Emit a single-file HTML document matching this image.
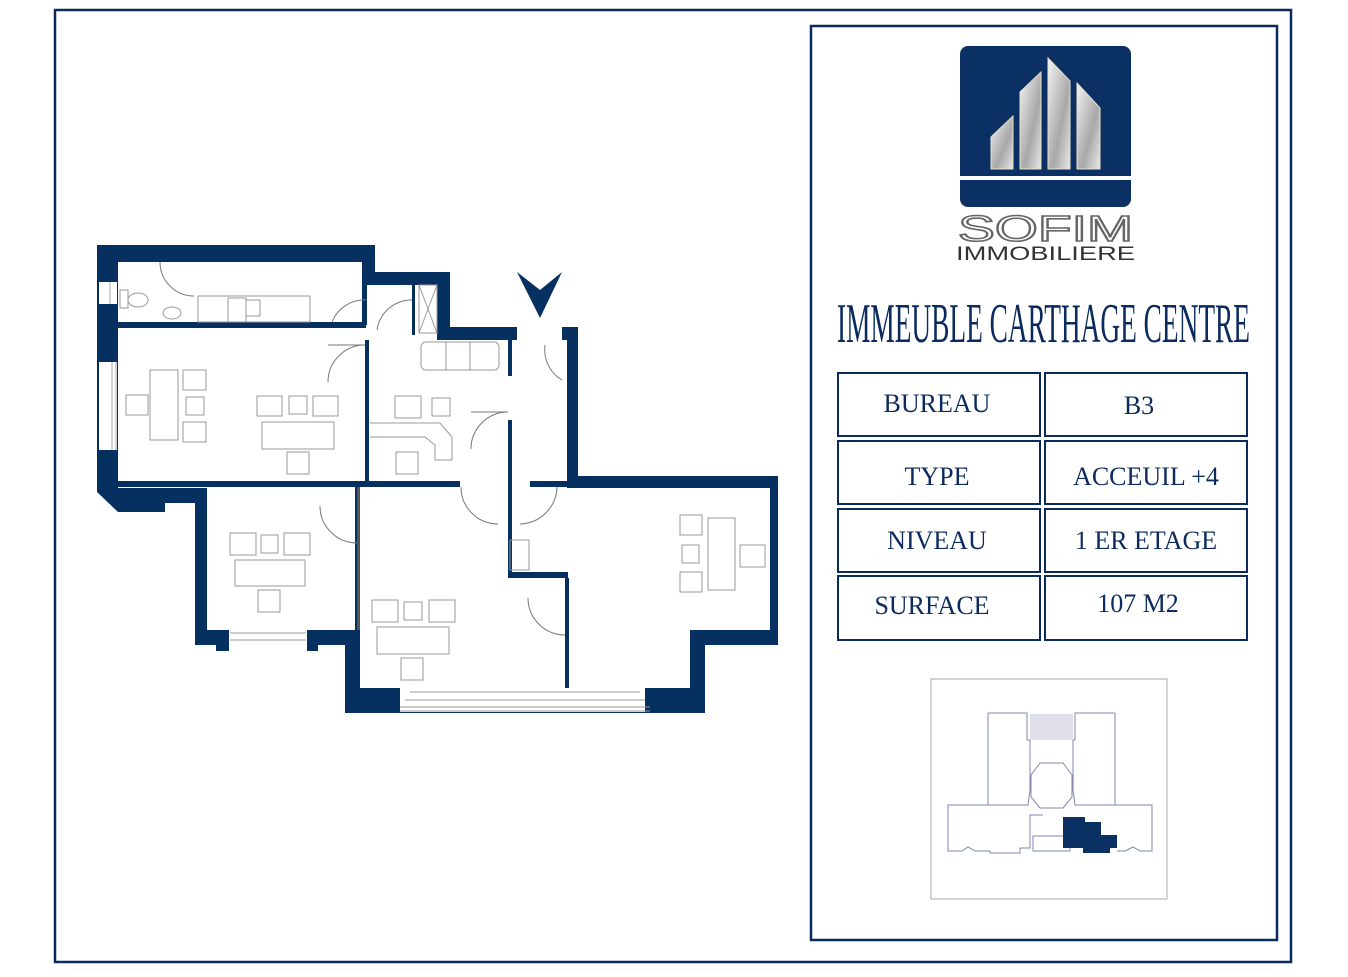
<!DOCTYPE html>
<html><head><meta charset="utf-8"><style>
html,body{margin:0;padding:0;background:#fff;}
svg{display:block;}
</style></head><body>
<svg width="1348" height="977" viewBox="0 0 1348 977" xmlns="http://www.w3.org/2000/svg">
<rect x="0" y="0" width="1348" height="977" fill="#fff"/>
<rect x="55" y="10" width="1236" height="952" fill="none" stroke="#0b2a5e" stroke-width="2.5"/>
<rect x="811" y="26" width="466" height="914" fill="none" stroke="#0b2a5e" stroke-width="2.5"/>

<!-- logo -->
<rect x="960" y="46" width="171" height="161" rx="8" fill="#0b3063"/>
<rect x="960" y="176" width="171" height="4" fill="#fff"/>
<defs><linearGradient id="g" x1="0" y1="0" x2="1" y2="1"><stop offset="0" stop-color="#f4f4f4"/><stop offset="0.6" stop-color="#a8a8a8"/><stop offset="1" stop-color="#e8e8e8"/></linearGradient></defs>
<polygon points="991,137 1013,116 1013,169 991,169" fill="url(#g)" stroke="#e9e1c8" stroke-width="1"/>
<polygon points="1020,92 1041,72 1041,169 1020,169" fill="url(#g)" stroke="#e9e1c8" stroke-width="1"/>
<polygon points="1048,58 1070,81 1070,169 1048,169" fill="url(#g)" stroke="#e9e1c8" stroke-width="1"/>
<polygon points="1077,83 1100,108 1100,169 1077,169" fill="url(#g)" stroke="#e9e1c8" stroke-width="1"/>
<text x="958" y="241" textLength="175" lengthAdjust="spacingAndGlyphs" font-family="Liberation Sans, sans-serif" font-size="36" fill="none" stroke="#666" stroke-width="1.6">SOFIM</text>
<text x="956" y="260" textLength="179" lengthAdjust="spacingAndGlyphs" font-family="Liberation Sans, sans-serif" font-size="19" fill="#333">IMMOBILIERE</text>

<!-- title -->
<text x="837" y="342" textLength="413" lengthAdjust="spacingAndGlyphs" font-family="Liberation Serif, serif" font-size="56" fill="#0b2a5e">IMMEUBLE CARTHAGE CENTRE</text>

<!-- table -->
<g fill="none" stroke="#0b2a5e" stroke-width="2">
<rect x="838" y="373" width="202" height="63"/><rect x="1045" y="373" width="202" height="63"/>
<rect x="838" y="441" width="202" height="63"/><rect x="1045" y="441" width="202" height="63"/>
<rect x="838" y="509" width="202" height="63"/><rect x="1045" y="509" width="202" height="63"/>
<rect x="838" y="576" width="202" height="64"/><rect x="1045" y="576" width="202" height="64"/>
</g>
<g font-family="Liberation Serif, serif" font-size="26" fill="#0b2a5e" text-anchor="middle">
<text x="937" y="412">BUREAU</text><text x="1139" y="414">B3</text>
<text x="937" y="485">TYPE</text><text x="1146" y="485">ACCEUIL +4</text>
<text x="937" y="549">NIVEAU</text><text x="1146" y="549">1 ER ETAGE</text>
<text x="932" y="614">SURFACE</text><text x="1138" y="612">107 M2</text>
</g>

<!-- mini map -->
<rect x="931" y="679" width="236" height="220" fill="none" stroke="#aaa" stroke-width="1"/>
<g fill="none" stroke="#7f86b0" stroke-width="1">
<polyline points="988,713 1027,713 1027,740 1030,740 1030,790 1028,805 948,805 948,851 962,851 968,847 975,851 990,851 990,853 1020,853 1020,848 1030,848 1030,815 1043,815"/>
<polyline points="1115,713 1075,713 1075,740 1073,740 1073,790 1075,805 1152,805 1152,851 1140,851 1133,847 1125,851 1117,851"/>
<line x1="988" y1="713" x2="988" y2="805"/><line x1="1115" y1="713" x2="1115" y2="805"/>
<polygon points="1040,763 1063,763 1072,775 1072,797 1063,808 1040,808 1031,797 1031,775"/>
<rect x="1033" y="836" width="37" height="15"/>
</g>
<rect x="1030" y="714" width="43" height="26" fill="#dfe0ea"/>
<polygon points="1063,817 1085,817 1085,822 1101,822 1101,835 1117,835 1117,848 1110,848 1110,853 1083,853 1083,848 1063,848" fill="#0b3063"/>

<!-- floor plan -->
<polygon fill="#05305f" points="97,245 375,245 375,272 450,272 450,327 578,327 578,476 778,476 778,645 705,645 705,713 345,713 345,645 318,645 318,651 307,651 307,645 229,645 229,651 216,651 216,645 195,645 195,503 165,503 165,512 118,512 97,492"/>
<polygon fill="#fff" points="118,262 362,262 362,285 437,285 437,340 567,340 567,488 770,488 770,630 690,630 690,688 360,688 360,630 207,630 207,488 118,488"/>
<rect x="229" y="628" width="78" height="17" fill="#fff"/>
<rect x="400" y="688" width="245" height="24" fill="#fff"/>
<g stroke="#999" stroke-width="1" fill="none">
<line x1="230" y1="633" x2="306" y2="633"/><line x1="230" y1="640" x2="306" y2="640"/>
<line x1="410" y1="692" x2="640" y2="692"/><line x1="405" y1="700" x2="645" y2="700"/><line x1="400" y1="707" x2="650" y2="707"/><line x1="400" y1="711" x2="650" y2="711"/>
</g>
<!-- windows left -->
<rect x="99" y="282" width="18" height="22" fill="#fff"/><rect x="99" y="362" width="18" height="88" fill="#fff"/>
<g stroke="#aaa" stroke-width="1"><line x1="110" y1="282" x2="110" y2="304"/><line x1="112" y1="362" x2="112" y2="450"/><line x1="116" y1="362" x2="116" y2="450"/></g>
<rect x="517" y="325" width="45" height="16" fill="#fff"/>
<!-- interior walls -->
<g fill="#05305f">
<rect x="118" y="322" width="248" height="6"/>
<rect x="362" y="285" width="5" height="40"/>
<rect x="365" y="340" width="4" height="141"/>
<rect x="118" y="481" width="342" height="6"/>
<rect x="530" y="481" width="37" height="6"/>
<rect x="508" y="340" width="4" height="36"/>
<rect x="508" y="420" width="4" height="152"/>
<rect x="508" y="572" width="60" height="6"/>
<rect x="565" y="578" width="4" height="110"/>
<rect x="355" y="487" width="5" height="143"/>
<rect x="412" y="285" width="3" height="50"/>
<rect x="437" y="285" width="13" height="42"/>
</g>
<polygon points="517,272 540,290 562,272 540,318" fill="#05305f"/>
<!-- doors -->
<g fill="none" stroke="#777" stroke-width="1">
<path d="M160,262 A34,34 0 0 0 194,296"/>
<path d="M367,300 A35,35 0 0 0 332,322"/>
<path d="M412,300 A35,35 0 0 0 377,330"/>
<path d="M365,345 A37,37 0 0 0 328,382"/><line x1="328" y1="345" x2="365" y2="345"/>
<path d="M508,412 A37,37 0 0 0 471,449"/><line x1="471" y1="412" x2="508" y2="412"/>
<path d="M545,345 A35,35 0 0 0 562,380"/>
<path d="M461,487 A37,37 0 0 0 498,524"/>
<path d="M520,524 A38,38 0 0 0 557,487"/>
<path d="M320,506 A37,37 0 0 0 357,543"/>
<path d="M528,598 A37,37 0 0 0 565,635"/>
</g>
<g fill="none" stroke="#999" stroke-width="1">
<rect x="198" y="296" width="112" height="26"/><rect x="228" y="298" width="18" height="24"/><rect x="246" y="300" width="14" height="16"/>
<rect x="120" y="290" width="8" height="18"/><ellipse cx="138" cy="300" rx="10" ry="7"/><ellipse cx="172" cy="313" rx="9" ry="6"/>
<rect x="419" y="285" width="18" height="48"/><line x1="419" y1="285" x2="437" y2="333"/><line x1="437" y1="285" x2="419" y2="333"/>
<rect x="150" y="370" width="28" height="70"/><rect x="183" y="370" width="23" height="20"/><rect x="186" y="397" width="18" height="18"/><rect x="183" y="422" width="23" height="20"/><rect x="126" y="395" width="22" height="20"/>
<rect x="257" y="396" width="25" height="20"/><rect x="289" y="396" width="18" height="18"/><rect x="313" y="396" width="25" height="20"/><rect x="262" y="422" width="72" height="27"/><rect x="287" y="452" width="22" height="22"/>
<rect x="421" y="342" width="78" height="28" rx="5"/><line x1="446" y1="342" x2="446" y2="370"/><line x1="470" y1="342" x2="470" y2="370"/>
<rect x="395" y="396" width="26" height="22"/><rect x="432" y="398" width="18" height="18"/>
<polyline points="370,423 440,423 452,437 452,460 435,460 435,445 425,437 370,437"/>
<rect x="396" y="452" width="22" height="22"/>
<rect x="230" y="533" width="26" height="22"/><rect x="261" y="535" width="17" height="18"/><rect x="284" y="533" width="26" height="22"/><rect x="235" y="560" width="70" height="26"/><rect x="258" y="590" width="22" height="22"/>
<rect x="372" y="600" width="26" height="22"/><rect x="404" y="602" width="18" height="18"/><rect x="429" y="600" width="26" height="22"/><rect x="377" y="627" width="72" height="27"/><rect x="401" y="658" width="22" height="22"/>
<rect x="680" y="515" width="22" height="20"/><rect x="682" y="545" width="17" height="18"/><rect x="680" y="572" width="22" height="20"/><rect x="708" y="518" width="27" height="72"/><rect x="740" y="545" width="25" height="22"/>
<rect x="510" y="540" width="19" height="30"/>
</g>
<rect x="357" y="487" width="3" height="143" fill="#555"/>
</svg>
</body></html>
